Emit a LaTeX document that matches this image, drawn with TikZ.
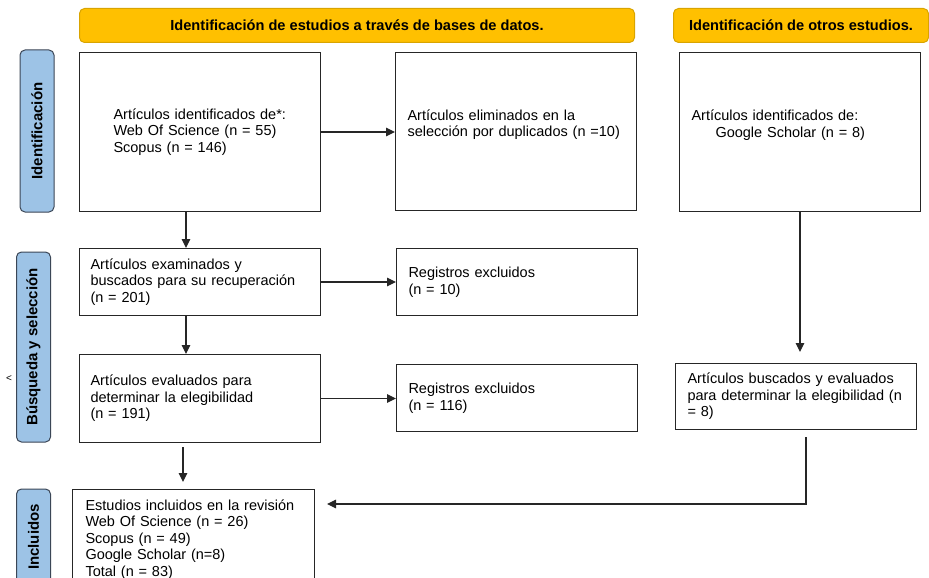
\documentclass[tikz,border=0pt]{standalone}
\usepackage{fontspec}
\setmainfont{Liberation Sans}
\usetikzlibrary{positioning,arrows.meta}
\definecolor{headyellow}{HTML}{FFC000}
\definecolor{headedge}{HTML}{D9A400}
\definecolor{tabblue}{HTML}{9DC3E6}
\definecolor{tabedge}{HTML}{3B4656}
\definecolor{boxedge}{HTML}{262626}

\begin{document}
\begin{tikzpicture}[x=1pt,y=-1pt,
  header/.style={draw=headedge,fill=headyellow,rounded corners=5pt,line width=1pt,minimum height=34pt,anchor=north west,font=\bfseries\fontsize{14.6}{16}\selectfont},
  phase/.style={draw=tabedge,fill=tabblue,rounded corners=5pt,line width=1pt,rotate=90,minimum height=34pt,font=\bfseries\fontsize{15}{17}\selectfont},
  box/.style={draw=boxedge,line width=1pt,anchor=north west,align=left,text width=217pt,inner xsep=12pt,inner ysep=0pt,font=\fontsize{14.5}{16.5}\selectfont},
  link/.style={draw=boxedge,line width=1.1pt,-{Triangle[length=9pt,width=8.5pt]}}]
  \useasboundingbox (0,0) rectangle (929,578);
  \clip (0,0) rectangle (929,578);
  \node[header,minimum width=555pt] (dbhead) at (79,8) {Identificación de estudios a través de bases de datos.};
  \node[header,minimum width=255pt] (otherhead) at (673,8) {Identificación de otros estudios.};
  \node[phase,minimum width=162pt] (tabid) at (37,131) {Identificación};
  \node[phase,minimum width=190pt] (tabsel) at (33.5,347) {Búsqueda y selección};
  \node[phase,minimum width=96pt] (tabinc) at (33.5,537) {Incluidos};
  \node[font=\fontsize{10}{12}\selectfont] (stray) at (9,379) {<};
  \node[box,minimum height=159pt,inner xsep=34pt,text width=173pt] (dbfound) at (79,52) {Artículos identificados de*:\\Web Of Science (n = 55)\\Scopus (n = 146)};
  \node[box,minimum height=158pt] (dupes) at (395,52) {Artículos eliminados en la\\selección por duplicados (n =10)\\~};
  \node[box,minimum height=159pt] (gsfound) at (679,52) {Artículos identificados de:\\\hspace{24pt}Google Scholar (n = 8)\\~};
  \node[box,minimum height=67pt,inner xsep=11pt,text width=219pt] (screened) at (79,248) {Artículos examinados y\\buscados para su recuperación\\(n = 201)};
  \node[box,minimum height=67pt] (excl1) at (396,248) {Registros excluidos\\(n = 10)};
  \node[box,minimum height=88pt,inner xsep=11pt,text width=219pt] (assessed) at (79,354) {Artículos evaluados para\\determinar la elegibilidad\\(n = 191)};
  \node[box,minimum height=67pt] (excl2) at (396,364) {Registros excluidos\\(n = 116)};
  \node[box,minimum height=66pt] (gsassessed) at (675,363) {Artículos buscados y evaluados\\para determinar la elegibilidad (n\\= 8)};
  \node[box,minimum height=100pt,inner xsep=13pt,text width=216pt] (included) at (72,489) {Estudios incluidos en la revisión\\Web Of Science (n = 26)\\Scopus (n = 49)\\Google Scholar (n=8)\\Total (n = 83)};
  \draw[link] ([xshift=-14pt]dbfound.south) -- ([xshift=-14pt]dbfound.south |- screened.north);
  \draw[link] ([xshift=-14pt]screened.south) -- ([xshift=-14pt]screened.south |- assessed.north);
  \draw[link,shorten <=4pt,shorten >=7pt] ([xshift=-17pt]assessed.south) -- ([xshift=-17pt]assessed.south |- included.north);
  \draw[link] (dbfound.east) -- (dbfound.east -| dupes.west);
  \draw[link] (screened.east) -- (screened.east -| excl1.west);
  \draw[link] (assessed.east) -- (assessed.east -| excl2.west);
  \draw[link,shorten >=11pt] (gsfound.south) -- (gsfound.south |- gsassessed.north);
  \draw[link,shorten <=7pt,shorten >=12pt] ([xshift=10pt]gsassessed.south) |- ([yshift=-15pt]included.north east);
\end{tikzpicture}
\end{document}
